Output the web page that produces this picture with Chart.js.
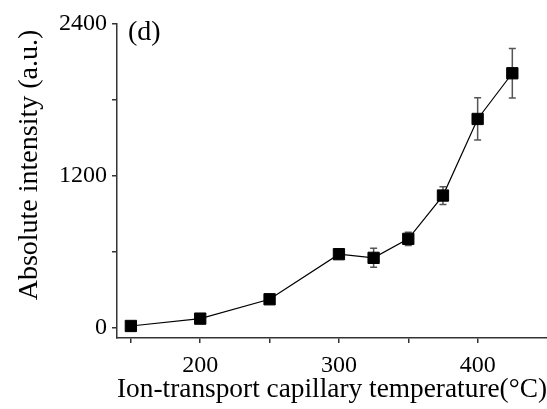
<!DOCTYPE html>
<html>
<head>
<meta charset="utf-8">
<script src="https://cdn.jsdelivr.net/npm/chart.js@4/dist/chart.umd.min.js"></script>
<style>
html, body { margin: 0; padding: 0; background: #fff; }
#wrap { width: 547px; height: 409px; }
</style>
</head>
<body>
<div id="wrap"><canvas id="line-chart"></canvas></div>
<script>
var temperatures = [150, 200, 250, 300, 325, 350, 375, 400, 425]
var intensity = [15, 73, 226, 582, 553, 703, 1045, 1650, 2011]
var errors = [10, 15, 25, 30, 75, 53, 70, 167, 195]
var xTicks = [150, 200, 250, 300, 350, 400]
var xLabels = [200, 300, 400]
var yTicks = [0, 600, 1200, 1800, 2400]
var yLabels = [0, 1200, 2400]
var panelLabel = '(d)'
var yTitle = 'Absolute intensity (a.u.)'
var xTitle = 'Ion-transport capillary temperature(°C)'

var serif = 'Liberation Serif'

// vertical error bars, drawn under the markers
var errorBars = {
    id: 'errorBars',
    beforeDatasetsDraw: function(chart) {
        var ctx = chart.ctx
        var xs = chart.scales.x
        var ys = chart.scales.y
        ctx.save()
        ctx.strokeStyle = '#555'
        ctx.lineWidth = 1.5
        for (var i = 0; i < temperatures.length; i++) {
            var px = xs.getPixelForValue(temperatures[i])
            var top = ys.getPixelForValue(intensity[i] + errors[i])
            var bot = ys.getPixelForValue(intensity[i] - errors[i])
            ctx.beginPath()
            ctx.moveTo(px, top); ctx.lineTo(px, bot)
            ctx.moveTo(px - 3.5, top); ctx.lineTo(px + 3.5, top)
            ctx.moveTo(px - 3.5, bot); ctx.lineTo(px + 3.5, bot)
            ctx.stroke()
        }
        ctx.restore()
    }
}

// panel letter and the y title (the y title sits a bit above the axis middle)
var panelText = {
    id: 'panelText',
    afterDraw: function(chart) {
        var ctx = chart.ctx
        var area = chart.chartArea
        ctx.save()
        ctx.fillStyle = '#000'
        ctx.font = '28px "' + serif + '"'
        ctx.textBaseline = 'alphabetic'
        ctx.fillText(panelLabel, area.left + 11, area.top + 16)

        ctx.textAlign = 'center'
        ctx.translate(37, (area.top + area.bottom) / 2 - 16)
        ctx.rotate(-Math.PI / 2)
        ctx.fillText(yTitle, 0, 0)
        ctx.restore()
    }
}

new Chart(document.getElementById('line-chart'), {
    type: 'line',
    data: {
        datasets: [{
            data: temperatures.map(function(t, i) { return {x: t, y: intensity[i]} }),
            borderColor: '#000',
            borderWidth: 1.2,
            backgroundColor: '#000',
            pointStyle: 'rect',
            pointRadius: 8,
            pointBorderWidth: 1,
            tension: 0
        }]
    },
    options: {
        responsive: true,
        maintainAspectRatio: false,
        animation: false,
        events: [],
        layout: { autoPadding: false, padding: { top: 24, right: 0, left: 0, bottom: 0 } },
        plugins: { legend: { display: false }, tooltip: { enabled: false } },
        scales: {
            x: {
                type: 'linear',
                min: 140,
                max: 450,
                afterBuildTicks: function(axis) {
                    axis.ticks = xTicks.map(function(v) { return {value: v} })
                },
                afterFit: function(s) { s.height = 71; s.paddingLeft = 0; s.paddingRight = 0 },
                ticks: {
                    autoSkip: false,
                    maxRotation: 0,
                    padding: 8,
                    color: '#000',
                    font: { family: serif, size: 24 },
                    callback: function(v) { return xLabels.indexOf(v) >= 0 ? v : '' }
                },
                grid: { drawOnChartArea: false, tickLength: 5, color: '#333', lineWidth: 1.5 },
                border: { color: '#333', width: 1.5 },
                title: {
                    display: true,
                    text: xTitle,
                    color: '#000',
                    font: { family: serif, size: 28 },
                    padding: { top: 0, bottom: 3 }
                }
            },
            y: {
                min: -80,
                max: 2400,
                afterBuildTicks: function(axis) {
                    axis.ticks = yTicks.map(function(v) { return {value: v} })
                },
                afterFit: function(s) { s.width = 117; s.paddingTop = 0; s.paddingBottom = 0 },
                ticks: {
                    autoSkip: false,
                    padding: 5,
                    color: '#000',
                    font: { family: serif, size: 24 },
                    callback: function(v) { return yLabels.indexOf(v) >= 0 ? v : '' }
                },
                grid: { drawOnChartArea: false, tickLength: 5, color: '#333', lineWidth: 1.5 },
                border: { color: '#333', width: 1.5 },
                title: { display: false }
            }
        }
    },
    plugins: [errorBars, panelText]
});
</script>
</body>
</html>
